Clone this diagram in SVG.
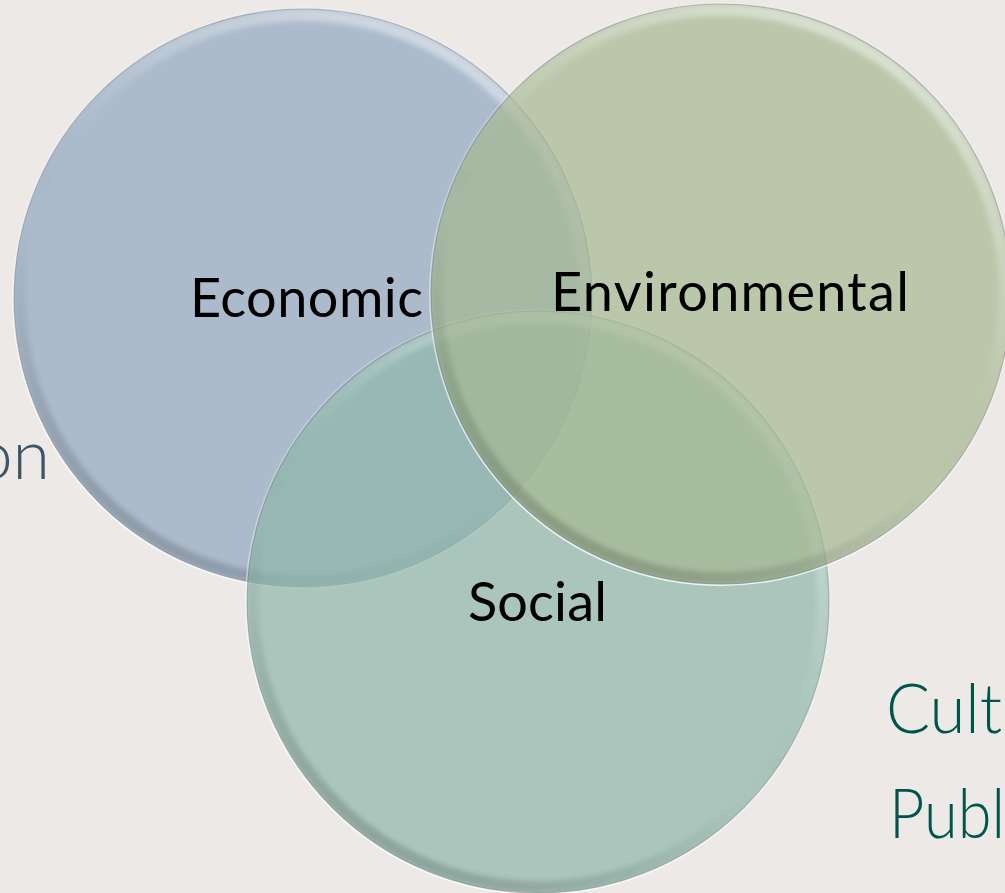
<svg xmlns="http://www.w3.org/2000/svg" width="1005" height="893" viewBox="0 0 1005 893">
  <style>
    .lbl { font-family: Lato, "Open Sans", "Liberation Sans", sans-serif; font-size: 54px; fill: #000000; }
    .side { font-family: Lato, "Open Sans", "Liberation Sans", sans-serif; font-size: 68px; font-weight: 300; }
    .fill { fill-opacity: 0.7; }
    .edge { fill: none; stroke: #5d6b78; stroke-opacity: 0.35; stroke-width: 1.2; }
    .bev { fill: none; stroke: url(#bevel); stroke-width: 12; }
    .rimw { fill: none; stroke: url(#rimWhite); stroke-width: 1.6; }
  </style>
  <defs>
    <linearGradient id="bevel" x1="0.78" y1="0" x2="0.22" y2="1">
      <stop offset="0" stop-color="#ffffff" stop-opacity="0.5"/>
      <stop offset="0.4" stop-color="#ffffff" stop-opacity="0.05"/>
      <stop offset="0.6" stop-color="#000000" stop-opacity="0"/>
      <stop offset="1" stop-color="#000000" stop-opacity="0.2"/>
    </linearGradient>
    <linearGradient id="rimWhite" x1="0.7" y1="0" x2="0.3" y2="1">
      <stop offset="0" stop-color="#ffffff" stop-opacity="0.2"/>
      <stop offset="0.5" stop-color="#ffffff" stop-opacity="0.3"/>
      <stop offset="1" stop-color="#ffffff" stop-opacity="0.9"/>
    </linearGradient>
    <filter id="soft" x="-5%" y="-5%" width="110%" height="110%">
      <feGaussianBlur stdDeviation="2.5"/>
    </filter>
    <clipPath id="clipEco"><circle cx="303" cy="298" r="289"/></clipPath>
    <clipPath id="clipSoc"><circle cx="538" cy="602" r="291"/></clipPath>
    <clipPath id="clipEnv"><circle cx="721" cy="294" r="290"/></clipPath>
  </defs>

  <rect x="0" y="0" width="1005" height="893" fill="#ECE9E6"/>

  <g id="side-text">
    <text class="side" x="50" y="479" text-anchor="end" fill="#3E5566">on</text>
    <text class="side" x="886" y="733" fill="#00544C" textLength="116" lengthAdjust="spacingAndGlyphs">Cult</text>
    <text class="side" x="889" y="838" fill="#00544C" textLength="116" lengthAdjust="spacingAndGlyphs">Publ</text>
  </g>

  <g id="node-economic">
    <circle class="fill" cx="303" cy="298" r="289" fill="#92A6C1"/>
    <g clip-path="url(#clipEco)"><circle class="bev" cx="303" cy="298" r="283" filter="url(#soft)"/></g>
    <circle class="rimw" cx="303" cy="298" r="290.2"/>
    <circle class="edge" cx="303" cy="298" r="289"/>
    <text class="lbl" x="190" y="317" textLength="233">Economic</text>
  </g>

  <g id="node-social">
    <circle class="fill" cx="538" cy="602" r="291" fill="#8EB7A9"/>
    <g clip-path="url(#clipSoc)"><circle class="bev" cx="538" cy="602" r="285" filter="url(#soft)"/></g>
    <circle class="rimw" cx="538" cy="602" r="292.2"/>
    <circle class="edge" cx="538" cy="602" r="291"/>
    <text class="lbl" x="468" y="621" textLength="139">Social</text>
  </g>

  <g id="node-environmental">
    <circle class="fill" cx="721" cy="294" r="290" fill="#A7B892"/>
    <g clip-path="url(#clipEnv)"><circle class="bev" cx="721" cy="294" r="284" filter="url(#soft)"/></g>
    <circle class="rimw" cx="721" cy="294" r="291.2"/>
    <circle class="edge" cx="721" cy="294" r="290"/>
    <text class="lbl" x="551" y="311" textLength="358">Environmental</text>
  </g>

  <g id="connectors"></g>
</svg>
